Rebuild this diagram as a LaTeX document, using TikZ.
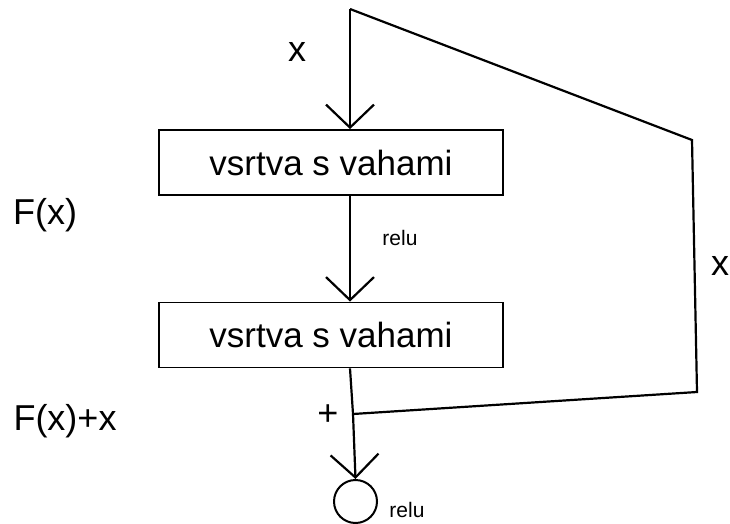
\documentclass[tikz,border=0pt]{standalone}
\usepackage{fontspec}
\setmainfont{Liberation Sans}
\usetikzlibrary{arrows.meta}
\begin{document}
\begin{tikzpicture}[x=1pt,y=-1pt,
  layer/.style={draw, line width=1.8pt, minimum width=344pt, minimum height=65pt,
    inner sep=0pt, font=\fontsize{35}{38}\selectfont},
  flow/.style={line width=2.2pt, -{Straight Barb[length=23pt,width=48pt,line width=2.2pt]}},
  wire/.style={line width=2.2pt},
  big/.style={font=\fontsize{36}{40}\selectfont, inner sep=0pt},
  small/.style={font=\fontsize{21}{24}\selectfont, inner sep=0pt}]
\useasboundingbox (0,0) rectangle (730,524);

% layers
\node[layer] (l1) at (331,162.5) {vsrtva s vahami};
\node[layer] (l2) at (331,335) {vsrtva s vahami};
\node[circle, draw, line width=2pt, minimum size=43pt, inner sep=0pt] (sum) at (355.5,501.5) {};

% input and skip connection corners
\coordinate (in) at (350,9);
\coordinate (s1) at (692,140);
\coordinate (s2) at (697,392);
\coordinate (join) at (353,414);

% main flow
\draw[flow] (in) -- (in |- l1.north);
\draw[flow] (in |- l1.south) -- (in |- l2.north);
\draw[wire] (in |- l2.south) -- (join);
\draw[flow] (join) -- (sum.north);

% identity shortcut
\draw[wire, line join=miter] (in) -- (s1) -- (s2) -- (join);

% labels
\node[big] (xin) at (297,52) {x};
\node[big] (xskip) at (720,266) {x};
\node[big] (fx) at (45,215) {F(x)};
\node[big] (fxx) at (65,421) {F(x)+x};
\node[big] (plus) at (328,415) {+};
\node[small] (r1) at (400,238) {relu};
\node[small] (r2) at (407,510) {relu};
\end{tikzpicture}
\end{document}
